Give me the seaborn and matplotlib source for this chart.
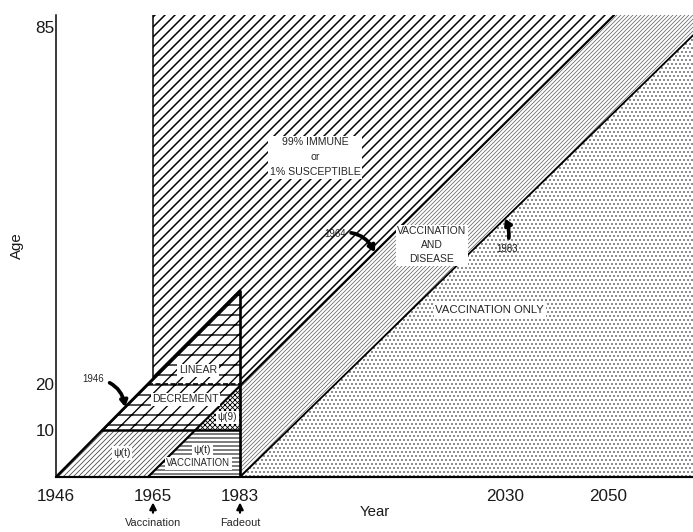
import numpy as np
import pandas as pd
import matplotlib
matplotlib.use("Agg")
import matplotlib.pyplot as plt
import seaborn as sns

# ---------------------------------------------------------------- data
year_ticks = [1946, 1965, 1983, 2030, 2050]
year_tick_labels = ["1946", "1965", "1983", "2030", "2050"]
age_ticks = [10, 20, 85]
age_tick_labels = ["10", "20", "85"]

first_cohort = 1946          # oldest birth cohort followed
vaccination_start = 1965     # start of mass vaccination
fadeout = 1983               # fadeout of natural infection
last_disease_cohort = 1964   # last cohort exposed to the disease
inner_ages = [10, 20]        # age bands inside the pre-fadeout triangle
year_end = 2066.5
age_top = 87.2

# schematic axes: tick spacing is not uniform, so map each axis piecewise
x_knots = [1920, 1946, 1965, 1983, 2030, 2050, 2100]
x_units = [-132.7, 0, 97, 184, 449, 552, 809.5]
y_knots = [-20, 0, 10, 20, 85, 120]
y_units = [-94, 0, 47, 93, 450, 642.2]


def fwd_x(v):
    return np.interp(v, x_knots, x_units)


def inv_x(v):
    return np.interp(v, x_units, x_knots)


def fwd_y(v):
    return np.interp(v, y_knots, y_units)


def inv_y(v):
    return np.interp(v, y_units, y_knots)


# ---------------------------------------------------------------- figure
sns.set_style("white")
plt.rcParams["font.family"] = ["Liberation Sans", "DejaVu Sans"]
DPI = 120
fig = plt.figure(figsize=(693 / DPI, 532 / DPI), dpi=DPI)
ax = fig.add_axes([56 / 693, 1 - 477 / 532, 1 - 56 / 693, 462 / 532])
ax.set_xscale("function", functions=(fwd_x, inv_x))
ax.set_yscale("function", functions=(fwd_y, inv_y))
ax.set_xlim(first_cohort, year_end)
ax.set_ylim(0, age_top)

a_lo, a_hi = inner_ages

# Lexis lines of the three key cohorts, drawn as straight segments
seg46 = [(first_cohort, 0.0), (fadeout, fadeout - first_cohort)]
seg64 = [(last_disease_cohort, 0.0), (last_disease_cohort + age_top, age_top)]
seg83 = [(fadeout, 0.0), (year_end, year_end - fadeout)]


def along(seg, year=None, age=None):
    """Point of a straight cohort segment at a given year or age."""
    tr = ax.transData
    p0, p1 = tr.transform(np.array(seg, float))
    if age is not None:
        target = tr.transform([(seg[0][0], age)])[0][1]
        t = (target - p0[1]) / (p1[1] - p0[1])
    else:
        target = tr.transform([(year, 0.0)])[0][0]
        t = (target - p0[0]) / (p1[0] - p0[0])
    return tuple(tr.inverted().transform([p0 + t * (p1 - p0)])[0])


A, apex = seg46
B, top64 = seg64
C, right83 = seg83
P10 = along(seg46, age=a_lo)
P20 = along(seg46, age=a_hi)
Q = along(seg46, year=vaccination_start)
R10 = along(seg64, age=a_lo)
R83 = along(seg64, year=fadeout)


def region(points, hatch, color, lw):
    pts = np.array(points, float)
    patch, = ax.fill(pts[:, 0], pts[:, 1], facecolor="white", edgecolor=color,
                     hatch=hatch, linewidth=0, zorder=1)
    if hasattr(patch, "set_hatch_linewidth"):
        patch.set_hatch_linewidth(lw)
    return patch


# 99% immune zone
region([(vaccination_start, age_top), Q, apex, R83, top64], "////", "black", 0.9)
# vaccination and disease band
region([R83, top64, (year_end, age_top), right83, C], "/" * 10, "0.4", 0.45)
# vaccination only
region([C, (year_end, 0), right83], ".....", "0.25", 0.5)
# linear decrement zone
region([P10, apex, R83, R10], "--///", "black", 0.8)
# psi(9) zone
region([R10, (fadeout, a_lo), R83], "x" * 8, "black", 0.5)
# psi(t) with vaccination
region([B, C, (fadeout, a_lo), R10], "-----", "black", 0.6)
# psi(t) before vaccination
region([A, B, R10, P10], "/" * 8, "0.3", 0.5)


# ---------------------------------------------------------------- outlines
def line(pts, lw, **kw):
    pts = np.array(pts, float)
    sns.lineplot(x=pts[:, 0], y=pts[:, 1], ax=ax, sort=False, estimator=None,
                 color="black", lw=lw, zorder=3, **kw)


line(seg46, 1.5)
line(seg64, 1.3)
line(seg83, 1.1)
line([C, apex], 1.6)
line([Q, (vaccination_start, age_top)], 0.9)
line([P10, (fadeout, a_lo)], 1.5)
line([P20, (fadeout, a_hi)], 1.0, linestyle=(0, (3, 1.5)))

# ---------------------------------------------------------------- labels
box = dict(boxstyle="square,pad=0.15", fc="white", ec="none")
small = dict(ha="center", va="center", zorder=4)

ax.text(1996.3, 61.3, "99% IMMUNE\nor\n1% SUSCEPTIBLE", linespacing=1.6,
        bbox=box, fontsize=6.3, **small)
ax.text(2017.0, 45.3, "VACCINATION\nAND\nDISEASE", linespacing=1.5,
        bbox=box, fontsize=6.2, **small)
ax.text(2027.3, 33.5, "VACCINATION ONLY", bbox=box, fontsize=6.8, **small)
ax.text(1974.3, 22.5, "LINEAR", bbox=box, fontsize=6.3, **small)
ax.text(1971.7, 16.7, "DECREMENT", bbox=box, fontsize=6.3, **small)
ax.text(1980.4, 12.8, "ψ(9)", bbox=box, fontsize=6.0, **small)
ax.text(1958.9, 5.1, "ψ(t)", bbox=box, fontsize=6.3, **small)
ax.text(1975.2, 5.8, "ψ(t)", bbox=box, fontsize=6.3, **small)
ax.text(1974.4, 2.9, "VACCINATION", bbox=box, fontsize=5.8, **small)

arrow = dict(arrowstyle="-|>,head_length=0.5,head_width=0.3",
             lw=2.2, color="black", shrinkA=1, shrinkB=0)
ax.annotate("1946", xy=along(seg46, age=15), xytext=(-19, 17),
            textcoords="offset points", fontsize=5.8, ha="center", va="center",
            arrowprops=dict(connectionstyle="arc3,rad=-0.4", **arrow), zorder=5)
ax.annotate("1964", xy=along(seg64, age=44), xytext=(-24, 11),
            textcoords="offset points", fontsize=5.8, ha="center", va="center",
            arrowprops=dict(connectionstyle="arc3,rad=-0.4", **arrow), zorder=5)
ax.annotate("1983", xy=along(seg83, year=2030), xytext=(1, -18),
            textcoords="offset points", fontsize=5.8, ha="center", va="center",
            arrowprops=dict(connectionstyle="arc3,rad=0.2", **arrow), zorder=5)

for yr, name in [(vaccination_start, "Vaccination"), (fadeout, "Fadeout")]:
    ax.annotate(name, xy=(yr, -0.055), xytext=(yr, -0.1),
                xycoords=("data", "axes fraction"),
                textcoords=("data", "axes fraction"),
                ha="center", va="center", fontsize=6.5, annotation_clip=False,
                arrowprops=dict(arrowstyle="-|>,head_length=0.5,head_width=0.25",
                                lw=1.3, color="black", shrinkA=1, shrinkB=0))

# ---------------------------------------------------------------- axes
ax.set_xticks(year_ticks, year_tick_labels)
ax.set_yticks(age_ticks, age_tick_labels)
ax.minorticks_off()
ax.tick_params(axis="x", direction="out", length=5, width=1.1, pad=2,
               labelsize=10.3, color="black", labelcolor="#1a1a1a")
ax.tick_params(axis="y", direction="in", length=9, width=0.9, pad=1,
               labelsize=10.3, color="black", labelcolor="#1a1a1a")
ax.xaxis.get_major_ticks()[0].tick1line.set_visible(False)
for side in ["top", "right"]:
    ax.spines[side].set_visible(False)
ax.spines["left"].set_linewidth(0.9)
ax.spines["bottom"].set_linewidth(1.3)
ax.spines["left"].set_color("black")
ax.spines["bottom"].set_color("black")
ax.spines["bottom"].set_zorder(4)
ax.set_xlabel("Year", fontsize=9, labelpad=1, color="#1a1a1a")
ax.set_ylabel("Age", fontsize=9, labelpad=7, color="#1a1a1a")

fig.savefig("out.png", dpi=DPI)
